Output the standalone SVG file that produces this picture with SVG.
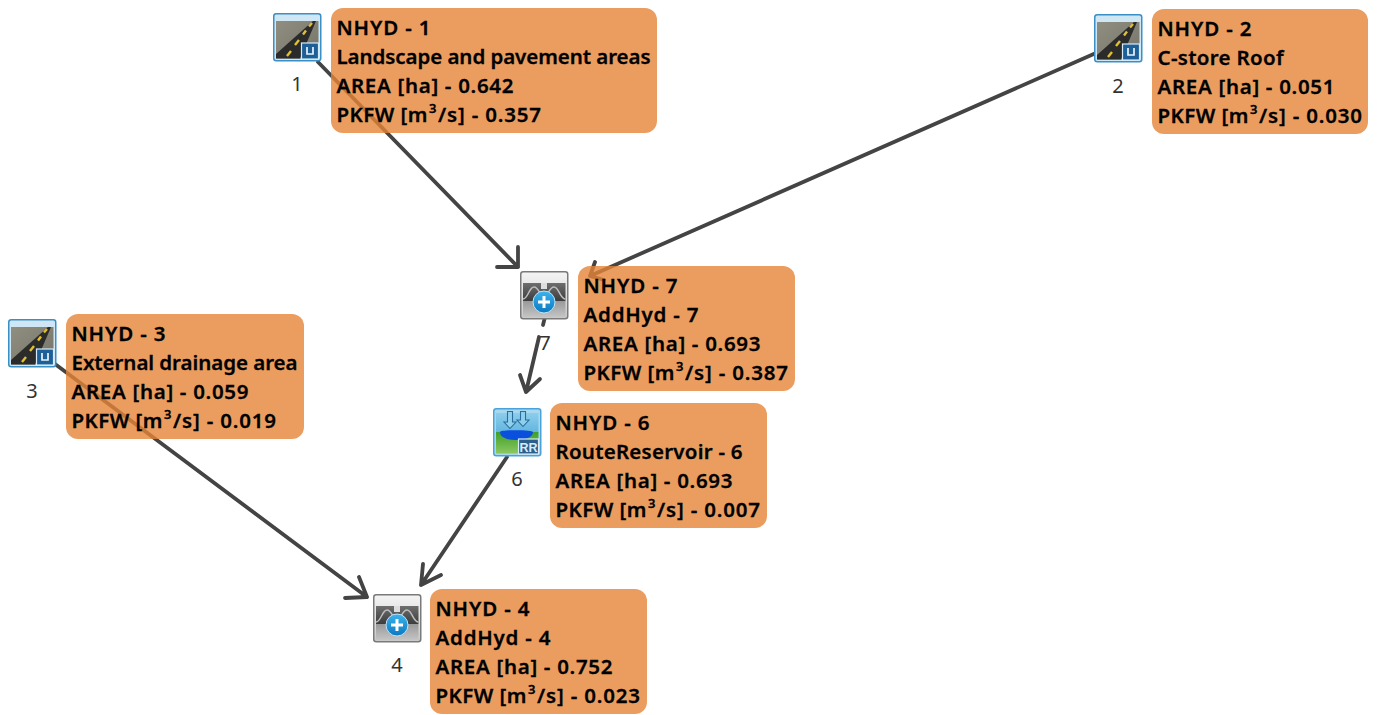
<svg xmlns="http://www.w3.org/2000/svg" width="1380" height="715" viewBox="0 0 1380 715">
<style>
.card{fill:#E58437;fill-opacity:.8;stroke:none}
.t{font-family:"Noto Sans","Open Sans","Liberation Sans",sans-serif;font-weight:600;font-size:20.5px;fill:#000;stroke:#000;stroke-width:.3px}
.n{font-family:"Noto Sans","Open Sans","Liberation Sans",sans-serif;font-size:20px;fill:#333;text-anchor:middle}
.sup{font-size:13px}
.c{fill:none;stroke:#444;stroke-width:3.8;stroke-linecap:round;stroke-linejoin:round}
</style>
<defs>
<linearGradient id="road" x1="0" y1="0" x2="1" y2="1"><stop offset="0" stop-color="#908e80"/><stop offset="1" stop-color="#77756a"/></linearGradient>
<linearGradient id="addtop" x1="0" y1="0" x2="0" y2="1"><stop offset="0" stop-color="#f4f4f4"/><stop offset="1" stop-color="#c8c8c8"/></linearGradient>
<linearGradient id="addband" x1="0" y1="0" x2="0" y2="1"><stop offset="0" stop-color="#6e6e6e"/><stop offset="1" stop-color="#3c3c3c"/></linearGradient>
<linearGradient id="addlow" x1="0" y1="0" x2="0" y2="1"><stop offset="0" stop-color="#999"/><stop offset="1" stop-color="#c4c4c4"/></linearGradient>
<linearGradient id="sky" x1="0" y1="0" x2="0" y2="1"><stop offset="0" stop-color="#8ccdec"/><stop offset="1" stop-color="#63b6e0"/></linearGradient>
<linearGradient id="grass" x1="0" y1="0" x2="0" y2="1"><stop offset="0" stop-color="#3f9f2a"/><stop offset="1" stop-color="#8cc860"/></linearGradient>
<linearGradient id="blue" x1="0" y1="0" x2="0" y2="1"><stop offset="0" stop-color="#3db4ec"/><stop offset="1" stop-color="#0a78c0"/></linearGradient>
<g id="ico-road">
<rect x="0.75" y="0.75" width="47" height="47" rx="2.5" fill="#cfe7f5" stroke="#3a8fc4" stroke-width="1.5"/>
<rect x="3" y="8" width="42.5" height="37.500" fill="url(#road)"/>
<path d="M3 45.500V41L40 8H43L27 45.500Z" fill="#2b2b2b"/>
<path d="M14 43L18 38M22 32L26 27M30 21.500L33 17.500M36 13.500L39 10" stroke="#e0c030" stroke-width="2.400" fill="none"/>
<rect x="28.500" y="30" width="17" height="16" fill="#1d5f96" stroke="#d6ecf8" stroke-width="1.200"/>
<path d="M34 34V41H40V34" fill="none" stroke="#e8f4fc" stroke-width="1.700"/>
</g>
<g id="ico-add">
<rect x="0.75" y="0.75" width="47" height="47" rx="2.5" fill="url(#addtop)" stroke="#7a7a7a" stroke-width="1.500"/>
<rect x="3" y="12" width="42.500" height="18" fill="url(#addband)"/>
<rect x="21" y="12" width="6" height="6" fill="#ddd"/>
<rect x="3" y="30" width="42.500" height="16" fill="url(#addlow)"/>
<path d="M3 28C8 28 9 16 14 16C19 16 20 26 24 26C28 26 29 16 34 16C39 16 40 28 45.500 28" fill="none" stroke="#bdbdbd" stroke-width="1.500"/>
<circle cx="24" cy="31" r="11" fill="url(#blue)" stroke="#bfe4f8" stroke-width="1"/>
<path d="M24 25V37M18 31H30" stroke="#fff" stroke-width="3"/>
</g>
<g id="ico-rr">
<rect x="0.75" y="0.75" width="47" height="47" rx="2.5" fill="#a8d8f0" stroke="#4aa3d8" stroke-width="1.500"/>
<rect x="3" y="5" width="42.500" height="19" fill="url(#sky)"/>
<rect x="3" y="24" width="42.500" height="21.500" fill="url(#grass)"/>
<path d="M14.500 3.500H19.500V14H23L17 20.500L11 14H14.500Z" fill="#8fd0ee" stroke="#2a6f9c" stroke-width="1.100"/>
<path d="M27.500 3.500H32.500V12H36L30 18.500L24 12H27.500Z" fill="#8fd0ee" stroke="#2a6f9c" stroke-width="1.100"/>
<path d="M7 24C7 21.500 40 21.500 40 24C40 29.500 32 32 23 32C14 32 7 29.500 7 24Z" fill="#0b50dc"/>
<rect x="25.500" y="31" width="20" height="15" fill="#2c5f8c" stroke="#d6ecf8" stroke-width="1.200"/>
<text x="35.500" y="43.500" font-family="Liberation Sans,sans-serif" font-weight="700" font-size="12.500" fill="#d8ecf8" text-anchor="middle">RR</text>
</g>
</defs>
<rect width="1380" height="715" fill="#fff"/>
<g id="connectors">
<path class="c" d="M318 62L518 267M518 247L518 267L497 267"/>
<path class="c" d="M1096 53L590 276M595 262L590 276L604 280"/>
<path class="c" d="M545 317L543 325M539 337L526 392M520 375L526 392L540 379"/>
<path class="c" d="M507 457L421 585M423 564L421 585L441 575"/>
<path class="c" d="M55 364L367 597M359 577L367 597L345 598"/>
</g>
<g id="node-1"><use href="#ico-road" x="273" y="13"/><text class="n" x="297" y="91">1</text><rect class="card" x="331" y="8" width="326" height="125" rx="12"/>
<text class="t" x="336.500" y="35" textLength="94">NHYD - 1</text><text class="t" x="336.500" y="64" textLength="314">Landscape and pavement areas</text><text class="t" x="336.500" y="93" textLength="177">AREA [ha] - 0.642</text><text class="t" x="336.500" y="121.500"><tspan textLength="91">PKFW [m</tspan><tspan class="sup" x="429" dy="-9">3</tspan><tspan x="438" dy="9" textLength="103">/s] - 0.357</tspan></text></g>
<g id="node-2"><use href="#ico-road" x="1094" y="14"/><text class="n" x="1118" y="93">2</text><rect class="card" x="1152" y="9" width="216" height="125" rx="12"/>
<text class="t" x="1157.500" y="36" textLength="94">NHYD - 2</text><text class="t" x="1157.500" y="65" textLength="126">C-store Roof</text><text class="t" x="1157.500" y="94" textLength="177">AREA [ha] - 0.051</text><text class="t" x="1157.500" y="122.500"><tspan textLength="91">PKFW [m</tspan><tspan class="sup" x="1250" dy="-9">3</tspan><tspan x="1259" dy="9" textLength="103">/s] - 0.030</tspan></text></g>
<g id="node-3"><use href="#ico-road" x="8" y="319"/><text class="n" x="32" y="398">3</text><rect class="card" x="66" y="314" width="238" height="125" rx="12"/>
<text class="t" x="71.500" y="341" textLength="94">NHYD - 3</text><text class="t" x="71.500" y="370" textLength="226">External drainage area</text><text class="t" x="71.500" y="399" textLength="177">AREA [ha] - 0.059</text><text class="t" x="71.500" y="427.500"><tspan textLength="91">PKFW [m</tspan><tspan class="sup" x="164" dy="-9">3</tspan><tspan x="173" dy="9" textLength="103">/s] - 0.019</tspan></text></g>
<g id="node-7"><use href="#ico-add" x="520" y="271"/><text class="n" x="545" y="350">7</text><rect class="card" x="578" y="266" width="217" height="125" rx="12"/>
<text class="t" x="583.500" y="293" textLength="94">NHYD - 7</text><text class="t" x="583.500" y="322" textLength="115">AddHyd - 7</text><text class="t" x="583.500" y="351" textLength="177">AREA [ha] - 0.693</text><text class="t" x="583.500" y="379.500"><tspan textLength="91">PKFW [m</tspan><tspan class="sup" x="676" dy="-9">3</tspan><tspan x="685" dy="9" textLength="103">/s] - 0.387</tspan></text></g>
<g id="node-6"><use href="#ico-rr" x="493" y="408"/><text class="n" x="517" y="486">6</text><rect class="card" x="550" y="403" width="217" height="125" rx="12"/>
<text class="t" x="555.500" y="430" textLength="94">NHYD - 6</text><text class="t" x="555.500" y="459" textLength="187">RouteReservoir - 6</text><text class="t" x="555.500" y="488" textLength="177">AREA [ha] - 0.693</text><text class="t" x="555.500" y="516.500"><tspan textLength="91">PKFW [m</tspan><tspan class="sup" x="648" dy="-9">3</tspan><tspan x="657" dy="9" textLength="103">/s] - 0.007</tspan></text></g>
<g id="node-4"><use href="#ico-add" x="373" y="594"/><text class="n" x="397" y="672">4</text><rect class="card" x="430" y="589" width="217" height="125" rx="12"/>
<text class="t" x="435.500" y="616" textLength="94">NHYD - 4</text><text class="t" x="435.500" y="645" textLength="115">AddHyd - 4</text><text class="t" x="435.500" y="674" textLength="177">AREA [ha] - 0.752</text><text class="t" x="435.500" y="702.500"><tspan textLength="91">PKFW [m</tspan><tspan class="sup" x="528" dy="-9">3</tspan><tspan x="537" dy="9" textLength="103">/s] - 0.023</tspan></text></g>
</svg>
